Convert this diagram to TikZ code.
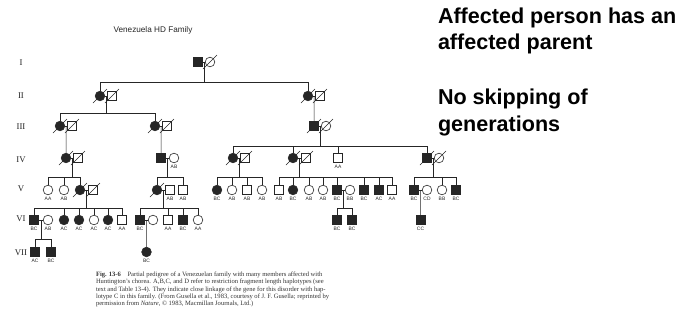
\documentclass[tikz,border=0pt]{standalone}
\usepackage{fontspec}
\setmainfont{Liberation Serif}
\setsansfont{Liberation Sans}
\usetikzlibrary{positioning}
\definecolor{pedink}{HTML}{262626}
\definecolor{capink}{HTML}{333333}

\begin{document}
\begin{tikzpicture}[
    x=0.03cm, y=-0.03cm,
    every node/.style={inner sep=0pt, outer sep=0pt},
    label distance=2.2pt,
    male/.style={draw=pedink, rectangle, minimum size=0.27cm, line width=0.5pt},
    female/.style={draw=pedink, circle, minimum size=0.29cm, line width=0.5pt},
    hd/.style={fill=pedink},
    geno/.style={font=\sffamily\fontsize{4.2}{4.2}\selectfont, text=pedink},
    pedline/.style={draw=pedink, line width=0.45pt},
    gen/.style={font=\fontsize{7.5}{8}\selectfont, text=pedink},
    claim/.style={anchor=base west, font=\sffamily\bfseries\fontsize{18.4}{22}\selectfont}
  ]
    \fill[white] (0,0) rectangle (692,331);
    \useasboundingbox (0,0) rectangle (692,331);

    % Title and generation numbers
    \node[font=\sffamily\fontsize{7}{8}\selectfont, text=pedink] (title) at (153,30) {Venezuela HD Family};
    \node[gen] (rI) at (21,63) {I};
    \node[gen] (rII) at (21,96) {II};
    \node[gen] (rIII) at (21,127) {III};
    \node[gen] (rIV) at (21,160) {IV};
    \node[gen] (rV) at (21,189) {V};
    \node[gen] (rVI) at (21,219) {VI};
    \node[gen] (rVII) at (21,253) {VII};

    % Generation I
    \node[male,hd] (Ia) at (198,62) {};
    \node[female] (Ib) at (210,62) {};

    % Generation II
    \node[female,hd] (IIa) at (100,96) {};
    \node[male] (IIb) at (112,96) {};
    \node[female,hd] (IIc) at (308,96) {};
    \node[male] (IId) at (320,96) {};

    % Generation III
    \node[female,hd] (IIIa) at (60,126) {};
    \node[male] (IIIb) at (72,126) {};
    \node[female,hd] (IIIc) at (155,126) {};
    \node[male] (IIId) at (167,126) {};
    \node[male,hd] (IIIe) at (314,126) {};
    \node[female] (IIIf) at (326,126) {};

    % Generation IV
    \node[female,hd] (IVa) at (66,158) {};
    \node[male] (IVb) at (78,158) {};
    \node[male,hd] (IVc) at (161,158) {};
    \node[female, label={[geno]below:AB}] (IVd) at (174,158) {};
    \node[female,hd] (IVe) at (233,158) {};
    \node[male] (IVf) at (245,158) {};
    \node[female,hd] (IVg) at (293,158) {};
    \node[male] (IVh) at (306,158) {};
    \node[male, label={[geno]below:AA}] (IVi) at (338,158) {};
    \node[male,hd] (IVj) at (427,158) {};
    \node[female] (IVk) at (439,158) {};

    % Generation V
    \node[female, label={[geno]below:AA}] (Va) at (48,190) {};
    \node[female, label={[geno]below:AB}] (Vb) at (64,190) {};
    \node[female,hd] (Vc) at (80,190) {};
    \node[male] (Vd) at (93,190) {};
    \node[female,hd] (Ve) at (157,190) {};
    \node[male, label={[geno]below:AB}] (Vf) at (170,190) {};
    \node[male, label={[geno]below:AB}] (Vg) at (183,190) {};
    \node[female,hd, label={[geno]below:BC}] (Vh) at (217,190) {};
    \node[female, label={[geno]below:AB}] (Vi) at (232,190) {};
    \node[male, label={[geno]below:AB}] (Vj) at (247,190) {};
    \node[female, label={[geno]below:AB}] (Vk) at (262,190) {};
    \node[male, label={[geno]below:AB}] (Vl) at (279,190) {};
    \node[female,hd, label={[geno]below:BC}] (Vm) at (293,190) {};
    \node[female, label={[geno]below:AB}] (Vn) at (309,190) {};
    \node[female, label={[geno]below:AB}] (Vo) at (323,190) {};
    \node[male,hd, label={[geno]below:BC}] (Vp) at (337,190) {};
    \node[female, label={[geno]below:BB}] (Vq) at (350,190) {};
    \node[male,hd, label={[geno]below:BC}] (Vr) at (364,190) {};
    \node[male,hd, label={[geno]below:AC}] (Vs) at (379,190) {};
    \node[male, label={[geno]below:AA}] (Vt) at (392,190) {};
    \node[male,hd, label={[geno]below:BC}] (Vu) at (414,190) {};
    \node[female, label={[geno]below:CD}] (Vv) at (427,190) {};
    \node[female, label={[geno]below:BB}] (Vw) at (442,190) {};
    \node[male,hd, label={[geno]below:BC}] (Vx) at (456,190) {};

    % Generation VI
    \node[male,hd, label={[geno]below:BC}] (VIa) at (34,220) {};
    \node[female, label={[geno]below:AB}] (VIb) at (48,220) {};
    \node[female,hd, label={[geno]below:AC}] (VIc) at (64,220) {};
    \node[female,hd, label={[geno]below:AC}] (VId) at (79,220) {};
    \node[female, label={[geno]below:AC}] (VIe) at (94,220) {};
    \node[female,hd, label={[geno]below:AC}] (VIf) at (108,220) {};
    \node[male, label={[geno]below:AA}] (VIg) at (122,220) {};
    \node[male,hd, label={[geno]below:BC}] (VIh) at (140,220) {};
    \node[female] (VIi) at (153,220) {};
    \node[male, label={[geno]below:AA}] (VIj) at (168,220) {};
    \node[male,hd, label={[geno]below:BC}] (VIk) at (183,220) {};
    \node[female, label={[geno]below:AA}] (VIl) at (198,220) {};
    \node[male,hd, label={[geno]below:BC}] (VIm) at (337,220) {};
    \node[male,hd, label={[geno]below:BC}] (VIn) at (352,220) {};
    \node[male,hd, label={[geno]below:CC}] (VIo) at (420.5,220) {};

    % Generation VII
    \node[male,hd, label={[geno]below:AC}] (VIIa) at (35,252) {};
    \node[male,hd, label={[geno]below:BC}] (VIIb) at (51,252) {};
    \node[female,hd, label={[geno]below:BC}] (VIIc) at (146.5,252) {};

    % Deceased
    \foreach \n in {Ib,IIa,IIb,IIc,IId,IIIa,IIIb,IIIc,IIId,IIIe,IIIf,IVa,IVb,IVe,IVf,IVg,IVh,IVj,IVk,Vc,Vd,Ve}
      \draw[pedline] ([shift={(-7,7)}]\n.center) -- ([shift={(7,-7)}]\n.center);

    % Marriages
    \draw[pedline] (Ia) -- (Ib) coordinate[midway] (mI);
    \draw[pedline] (IIa) -- (IIb) coordinate[midway] (mIIa);
    \draw[pedline] (IIc) -- (IId) coordinate[midway] (mIIc);
    \draw[pedline] (IIIa) -- (IIIb) coordinate[midway] (mIIIa);
    \draw[pedline] (IIIc) -- (IIId) coordinate[midway] (mIIIc);
    \draw[pedline] (IIIe) -- (IIIf) coordinate[midway] (mIIIe);
    \draw[pedline] (IVa) -- (IVb) coordinate[midway] (mIVa);
    \draw[pedline] (IVc) -- (IVd) coordinate[midway] (mIVc);
    \draw[pedline] (IVe) -- (IVf) coordinate[midway] (mIVe);
    \draw[pedline] (IVg) -- (IVh) coordinate[midway] (mIVg);
    \draw[pedline] (IVj) -- (IVk) coordinate[midway] (mIVj);
    \draw[pedline] (Vc) -- (Vd) coordinate[midway] (mVc);
    \draw[pedline] (Ve) -- (Vf) coordinate[midway] (mVe);
    \draw[pedline] (Vp) -- (Vq) coordinate[midway] (mVp);
    \draw[pedline] (Vu) -- (Vv) coordinate[midway] (mVu);
    \draw[pedline] (VIa) -- (VIb) coordinate[midway] (mVIa);
    \draw[pedline] (VIh) -- (VIi) coordinate[midway] (mVIh);

    % Sibship levels
    \coordinate (b1) at (0,82);
    \coordinate (b2) at (0,113);
    \coordinate (b3) at (0,146);
    \coordinate (b4) at (0,177);
    \coordinate (b5) at (0,208);
    \coordinate (b6) at (0,239);

    % Descent I -> II
    \draw[pedline] (mI) -- (mI |- b1);
    \draw[pedline] (IIa |- b1) -- (IIc |- b1);
    \foreach \c in {IIa,IIc} \draw[pedline] (\c) -- (\c |- b1);

    % Descent II -> III
    \draw[pedline] (mIIa) -- (mIIa |- b2);
    \draw[pedline] (IIIa |- b2) -- (IIIc |- b2);
    \foreach \c in {IIIa,IIIc} \draw[pedline] (\c) -- (\c |- b2);
    \draw[pedline] (mIIc) -- (IIIe);

    % Descent III -> IV
    \draw[pedline] (mIIIa) -- (IVa);
    \draw[pedline] (mIIIc) -- (IVc);
    \draw[pedline] (mIIIe) -- (mIIIe |- b3);
    \draw[pedline] (IVe |- b3) -- (IVj |- b3);
    \foreach \c in {IVe,IVg,IVi,IVj} \draw[pedline] (\c) -- (\c |- b3);

    % Descent IV -> V
    \draw[pedline] (mIVa) -- (mIVa |- b4);
    \draw[pedline] (Va |- b4) -- (Vc |- b4);
    \foreach \c in {Va,Vb,Vc} \draw[pedline] (\c) -- (\c |- b4);
    \draw[pedline] (mIVc) -- (mIVc |- b4);
    \draw[pedline] (Ve |- b4) -- (Vg |- b4);
    \foreach \c in {Ve,Vg} \draw[pedline] (\c) -- (\c |- b4);
    \draw[pedline] (mIVe) -- (mIVe |- b4);
    \draw[pedline] (Vh |- b4) -- (Vk |- b4);
    \foreach \c in {Vh,Vi,Vj,Vk} \draw[pedline] (\c) -- (\c |- b4);
    \draw[pedline] (mIVg) -- (mIVg |- b4);
    \draw[pedline] (Vl |- b4) -- (Vt |- b4);
    \foreach \c in {Vl,Vm,Vn,Vo,Vp,Vr,Vs,Vt} \draw[pedline] (\c) -- (\c |- b4);
    \draw[pedline] (mIVj) -- (mIVj |- b4);
    \draw[pedline] (Vu |- b4) -- (Vx |- b4);
    \foreach \c in {Vu,Vw,Vx} \draw[pedline] (\c) -- (\c |- b4);

    % Descent V -> VI
    \draw[pedline] (mVc) -- (mVc |- b5);
    \draw[pedline] (VIa |- b5) -- (VIg |- b5);
    \foreach \c in {VIa,VIc,VId,VIe,VIf,VIg} \draw[pedline] (\c) -- (\c |- b5);
    \draw[pedline] (mVe) -- (mVe |- b5);
    \draw[pedline] (VIh |- b5) -- (VIl |- b5);
    \foreach \c in {VIh,VIj,VIk,VIl} \draw[pedline] (\c) -- (\c |- b5);
    \draw[pedline] (mVp) -- (mVp |- b5);
    \draw[pedline] (VIm |- b5) -- (VIn |- b5);
    \foreach \c in {VIm,VIn} \draw[pedline] (\c) -- (\c |- b5);
    \draw[pedline] (mVu) -- (VIo);

    % Descent VI -> VII
    \draw[pedline] (mVIa) -- (mVIa |- b6);
    \draw[pedline] (VIIa |- b6) -- (VIIb |- b6);
    \foreach \c in {VIIa,VIIb} \draw[pedline] (\c) -- (\c |- b6);
    \draw[pedline] (mVIh) -- (VIIc);

    % Caption
    \node[anchor=north west, align=left, text=capink, font=\fontsize{5.6}{6.2}\selectfont] (caption) at (96,272)
      {\textbf{Fig. 13-6}\quad Partial pedigree of a Venezuelan family with many members affected with\\
       Huntington's chorea. A,B,C, and D refer to restriction fragment length haplotypes (see\\
       text and Table 13-4). They indicate close linkage of the gene for this disorder with hap-\\
       lotype C in this family. (From Gusella et al., 1983, courtesy of J. F. Gusella; reprinted by\\
       permission from \emph{Nature}, \textcopyright{} 1983, Macmillan Journals, Ltd.)};

    % Notes
    \node[claim] (note1) at (438,23) {Affected person has an};
    \node[claim] (note2) at (438,49) {affected parent};
    \node[claim] (note3) at (438,104) {No skipping of};
    \node[claim] (note4) at (438,131) {generations};
\end{tikzpicture}
\end{document}
